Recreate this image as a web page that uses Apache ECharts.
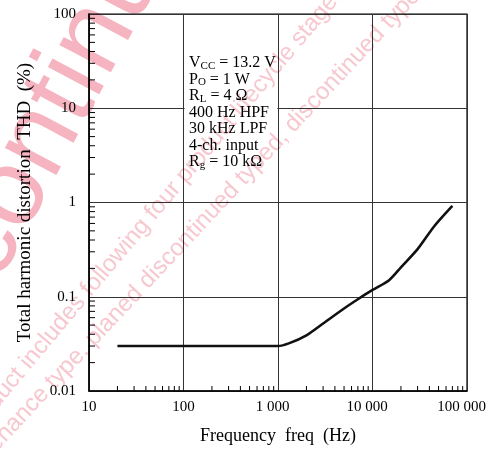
<!DOCTYPE html>
<html>
<head>
<meta charset="utf-8">
<script src="https://cdn.jsdelivr.net/npm/echarts@6/dist/echarts.min.js"></script>
<style>
html,body{margin:0;padding:0;background:#fff;}
#chart{width:491px;height:454px;}
</style>
</head>
<body>
<div id="chart"></div>
<script>
// ---- data ----
const freq = [20, 1000, 1300, 2000, 3000, 5000, 7000, 10000, 15000, 20000, 30000, 45000, 70000];
const thd  = [0.03, 0.03, 0.032, 0.039, 0.052, 0.075, 0.094, 0.118, 0.15, 0.205, 0.32, 0.56, 0.92];
const xTickLabels = ['10', '100', '1 000', '10 000', '100 000'];
const yTickLabels = ['0.01', '0.1', '1', '10', '100'];
const xDecades = [10, 100, 1000, 10000];
const yDecades = [0.01, 0.1, 1, 10];
const minorMultipliers = [2, 3, 4, 5, 6, 7, 8, 9];
const xName = 'Frequency\u00a0\u00a0freq\u00a0\u00a0(Hz)';
const yName = 'Total harmonic distortion\u00a0\u00a0THD\u00a0\u00a0(%)';
const conditions = [
  ['V', 'CC', ' = 13.2 V'],
  ['P', 'O', ' = 1 W'],
  ['R', 'L', ' = 4 \u03a9'],
  ['400 Hz HPF'],
  ['30 kHz LPF'],
  ['4-ch. input'],
  ['R', 'g', ' = 10 k\u03a9']
];
const watermarkBig = 'discontinued';
const watermarkLine1 = 'product includes following four product lifecycle stages';
const watermarkLine2 = 'maintenance type, planed discontinued typed, discontinued type';

// ---- build ----
const SERIF = "'Liberation Serif', 'Times New Roman', serif";
const SANS = "'Liberation Sans', Arial, sans-serif";
const curve = freq.map((f, i) => [f, thd[i]]);
const xMinor = [];
xDecades.forEach(d => minorMultipliers.forEach(m => xMinor.push([d * m, 0.01])));
const yMinor = [];
yDecades.forEach(d => minorMultipliers.forEach(m => yMinor.push([10, +(d * m).toPrecision(3)])));

const condText = conditions.map(c => c.length === 1 ? '{n|' + c[0] + '}' :
  '{n|' + c[0] + '}{s|' + c[1] + '}{n|' + c[2] + '}').join('\n');

const chart = echarts.init(document.getElementById('chart'), null, {renderer: 'canvas'});
const deg = Math.PI / 180;
chart.setOption({
  backgroundColor: '#fff',
  animation: false,
  grid: {left: 89, right: 24, top: 14, bottom: 63, show: true, borderColor: '#000', borderWidth: 1.2,
         backgroundColor: 'transparent', containLabel: false, outerBoundsMode: 'none'},
  xAxis: {
    type: 'log', logBase: 10, min: 10, max: 100000,
    axisLine: {lineStyle: {color: '#000', width: 1.5}},
    axisTick: {show: false},
    splitLine: {show: true, lineStyle: {color: '#333', width: 1}},
    axisLabel: {
      margin: 9, color: '#000', fontFamily: SERIF, fontSize: 15, hideOverlap: false,
      formatter: v => {
        const s = xTickLabels[Math.round(Math.log10(v)) - 1];
        return s.indexOf(' ') >= 0 ? s + '\u2002\u2009' : s;
      }
    },
    name: xName, nameLocation: 'middle', nameGap: 36,
    nameTextStyle: {color: '#000', fontFamily: SERIF, fontSize: 18}
  },
  yAxis: {
    type: 'log', logBase: 10, min: 0.01, max: 100,
    axisLine: {lineStyle: {color: '#000', width: 1.5}},
    axisTick: {show: false},
    splitLine: {show: true, lineStyle: {color: '#333', width: 1}},
    axisLabel: {
      margin: 13, color: '#000', fontFamily: SERIF, fontSize: 15,
      formatter: v => yTickLabels[Math.round(Math.log10(v)) + 2]
    },
    name: yName, nameLocation: 'middle', nameGap: 54,
    nameTextStyle: {color: '#000', fontFamily: SERIF, fontSize: 19}
  },
  series: [
    {
      type: 'line', data: curve, showSymbol: false, smooth: 0.25, z: 5,
      lineStyle: {color: '#111', width: 2.6}
    },
    {
      type: 'custom', data: xMinor, z: 4, silent: true,
      renderItem: (params, api) => {
        const p = api.coord([api.value(0), api.value(1)]);
        return {type: 'line', shape: {x1: p[0], y1: p[1], x2: p[0], y2: p[1] - 5},
                style: {stroke: '#000', lineWidth: 1}};
      }
    },
    {
      type: 'custom', data: yMinor, z: 4, silent: true,
      renderItem: (params, api) => {
        const p = api.coord([api.value(0), api.value(1)]);
        return {type: 'line', shape: {x1: p[0], y1: p[1], x2: p[0] + 6, y2: p[1]},
                style: {stroke: '#000', lineWidth: 1}};
      }
    }
  ],
  graphic: [
    {type: 'rect', z: 10, silent: true, shape: {x: 184.6, y: 50, width: 92.8, height: 125},
     style: {fill: '#fff'}},
    {type: 'text', z: 11, x: 189, y: 55, silent: true,
     style: {text: condText, verticalAlign: 'top', align: 'left',
             rich: {
               n: {fontFamily: SERIF, fontSize: 16, lineHeight: 16.5, fill: '#000'},
               s: {fontFamily: SERIF, fontSize: 11, lineHeight: 8, verticalAlign: 'bottom', fill: '#000'}
             }}},
    {type: 'text', zlevel: 1, z: 100, x: -46, y: 420, rotation: 62 * deg, silent: true,
     style: {text: watermarkBig, font: '110px ' + SANS, fill: 'rgb(245,180,192)', verticalAlign: 'bottom'}},
    {type: 'text', zlevel: 1, z: 101, x: -22, y: 440, rotation: 50 * deg, silent: true,
     style: {text: watermarkLine1, font: '24px ' + SANS, fill: 'rgb(247,200,208)', verticalAlign: 'bottom'}},
    {type: 'text', zlevel: 1, z: 101, x: -40, y: 499, rotation: 47 * deg, silent: true,
     style: {text: watermarkLine2, font: '24px ' + SANS, fill: 'rgb(247,200,208)', verticalAlign: 'bottom'}}
  ]
});
function blendLayers() {
  const canvases = document.querySelectorAll('#chart canvas');
  canvases.forEach((c, i) => { if (i > 0) c.style.mixBlendMode = 'multiply'; });
}
blendLayers();
chart.on('finished', blendLayers);
</script>
</body>
</html>
